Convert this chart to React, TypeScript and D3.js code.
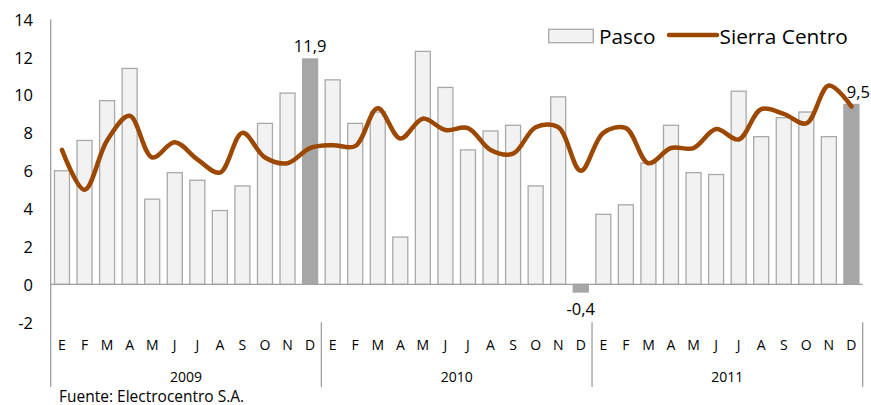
import React from "react";
import * as d3 from "d3";

const years = ["2009", "2010", "2011"];
const monthLabels = ["E", "F", "M", "A", "M", "J", "J", "A", "S", "O", "N", "D"];
const pasco = [
  6.0, 7.6, 9.7, 11.4, 4.5, 5.9, 5.5, 3.9, 5.2, 8.5, 10.1, 11.9,
  10.8, 8.5, 9.1, 2.5, 12.3, 10.4, 7.1, 8.1, 8.4, 5.2, 9.9, -0.4,
  3.7, 4.2, 6.4, 8.4, 5.9, 5.8, 10.2, 7.8, 8.8, 9.1, 7.8, 9.5,
];
const sierraCentro = [
  7.1, 5.0, 7.6, 8.9, 6.7, 7.5, 6.6, 5.9, 8.0, 6.7, 6.4, 7.2,
  7.35, 7.3, 9.3, 7.7, 8.75, 8.15, 8.25, 7.1, 6.9, 8.3, 8.3, 6.0,
  8.0, 8.25, 6.4, 7.2, 7.2, 8.2, 7.65, 9.25, 9.0, 8.5, 10.5, 9.4,
];
const yTicks = [-2, 0, 2, 4, 6, 8, 10, 12, 14];
const highlighted = [11, 23, 35];
const labelled = [
  { i: 11, text: "11,9" },
  { i: 23, text: "-0,4" },
  { i: 35, text: "9,5" },
];

const FONT = "'Open Sans', 'DejaVu Sans', sans-serif";
const W = 871;
const H = 405;
const LEFT = 50.7;
const RIGHT = 862.7;
const LINE_COLOR = "#9c4800";
const BAR_FILL = "#f2f2f2";
const BAR_STROKE = "#a9a9a9";
const HI_FILL = "#a6a6a6";
const AXIS = "#a0a0a0";

export default function App() {
  const idx = pasco.map((_, i) => i);
  const x = d3
    .scaleBand<number>()
    .domain(idx)
    .range([LEFT, RIGHT])
    .paddingInner(0.335)
    .paddingOuter(0.1675);
  const y = d3.scaleLinear().domain([-2, 14]).range([322.3, 19.2]);
  const step = x.step();
  const cx = (i: number) => (x(i) as number) + x.bandwidth() / 2;

  const line = d3
    .line<number>()
    .x((_, i) => cx(i))
    .y((d) => y(d))
    .curve(d3.curveCatmullRom.alpha(0.5));

  const axisBottom = 387;
  const catTop = y(-2);

  return (
    <svg
      width={W}
      height={H}
      style={{ position: "fixed", left: 0, top: 0, background: "#fff" }}
      fontFamily={FONT}
    >
      <rect x={0} y={0} width={W} height={H} fill="#fff" />
      {pasco.map((v, i) => {
        const hi = highlighted.includes(i);
        const y0 = y(0);
        const yv = y(v);
        return (
          <rect
            key={i}
            x={x(i)}
            y={Math.min(y0, yv)}
            width={x.bandwidth()}
            height={Math.abs(yv - y0)}
            fill={hi ? HI_FILL : BAR_FILL}
            stroke={hi ? HI_FILL : BAR_STROKE}
            strokeWidth={1.3}
          />
        );
      })}
      <line x1={LEFT} x2={RIGHT} y1={y(0)} y2={y(0)} stroke={AXIS} strokeWidth={1.3} />
      <line x1={LEFT} x2={LEFT} y1={y(14)} y2={axisBottom} stroke={AXIS} strokeWidth={1.3} />
      {yTicks.map((t) => (
        <text
          key={t}
          x={33}
          y={y(t)}
          textAnchor="end"
          dominantBaseline="central"
          fontSize={16.5}
          fill="#000"
        >
          {t}
        </text>
      ))}
      <path
        d={line(sierraCentro) || ""}
        fill="none"
        stroke={LINE_COLOR}
        strokeWidth={4.5}
        strokeLinejoin="round"
        strokeLinecap="round"
      />
      {labelled.map((l) => {
        const v = pasco[l.i];
        const ty = v >= 0 ? y(v) - 13 : y(v) + 17;
        const dx = l.i === 35 ? 7 : 0;
        return (
          <text
            key={l.i}
            x={cx(l.i) + dx}
            y={ty}
            textAnchor="middle"
            dominantBaseline="central"
            fontSize={16.5}
            fill="#000"
          >
            {l.text}
          </text>
        );
      })}
      {years.map((yr, k) => (
        <g key={yr}>
          {monthLabels.map((m, j) => (
            <text
              key={j}
              x={cx(k * 12 + j)}
              y={344}
              textAnchor="middle"
              dominantBaseline="central"
              fontSize={14}
              fill="#000"
            >
              {m}
            </text>
          ))}
          <text
            x={LEFT + step * (k * 12 + 6)}
            y={376.5}
            textAnchor="middle"
            dominantBaseline="central"
            fontSize={14}
            fill="#000"
          >
            {yr}
          </text>
          <line
            x1={LEFT + step * (k + 1) * 12}
            x2={LEFT + step * (k + 1) * 12}
            y1={catTop}
            y2={axisBottom}
            stroke={AXIS}
            strokeWidth={1.3}
          />
        </g>
      ))}
      <rect x={548.7} y={29.3} width={44.6} height={13.4} fill={BAR_FILL} stroke={BAR_STROKE} strokeWidth={1.3} />
      <text x={599} y={35.5} dominantBaseline="central" fontSize={20.8} fill="#000">
        Pasco
      </text>
      <line x1={669} x2={717} y1={35} y2={35} stroke={LINE_COLOR} strokeWidth={4.5} strokeLinecap="round" />
      <text x={719.5} y={35.5} dominantBaseline="central" fontSize={20.8} fill="#000">
        Sierra Centro
      </text>
      <text x={59} y={395.5} dominantBaseline="central" fontSize={15.5} fill="#000">
        Fuente: Electrocentro S.A.
      </text>
    </svg>
  );
}
